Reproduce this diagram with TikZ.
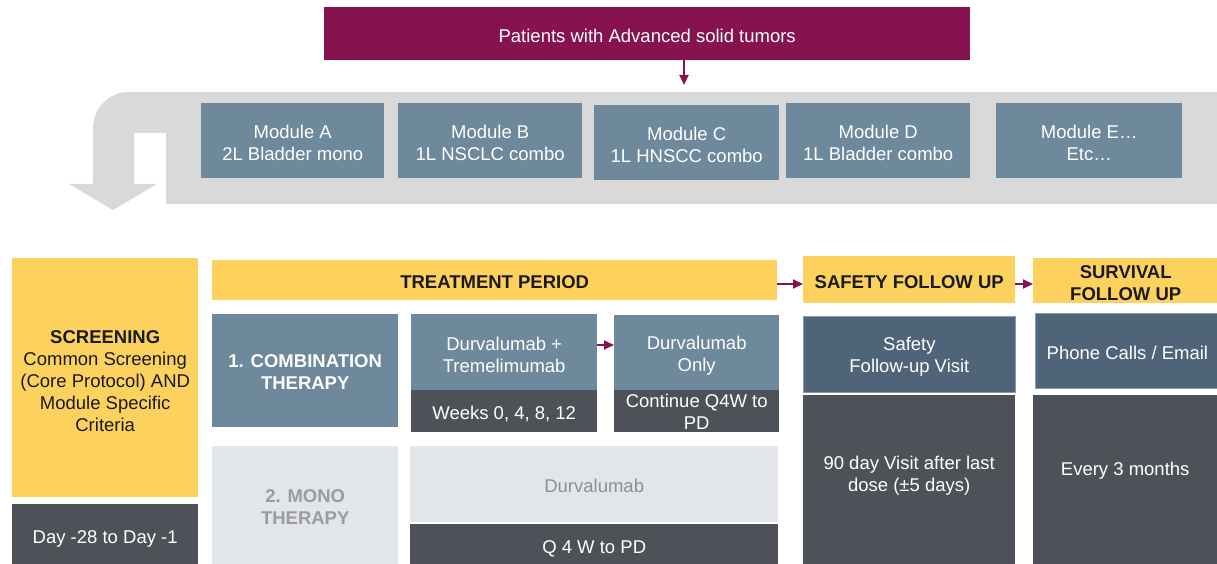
\documentclass[tikz,border=0pt]{standalone}
\usepackage{fontspec}
\setmainfont{Liberation Sans}
\usetikzlibrary{arrows.meta}
\definecolor{plum}{HTML}{86134F}
\definecolor{gold}{HTML}{FDD15E}
\definecolor{steel}{HTML}{6E889C}
\definecolor{slate}{HTML}{506479}
\definecolor{charcoal}{HTML}{4E5258}
\definecolor{pale}{HTML}{E2E6EA}
\definecolor{bandgrey}{HTML}{D9D9D9}
\definecolor{greytxt}{HTML}{8F8F8F}
\definecolor{monotxt}{HTML}{9C9C9C}
\definecolor{inktxt}{HTML}{1A1A1A}
\definecolor{edge}{HTML}{8A9CAC}
\begin{document}
\begin{tikzpicture}[x=1pt,y=-1pt,
  font=\fontsize{18.5}{22}\selectfont,
  cell/.style={anchor=north west, inner sep=0pt, align=center,
    execute at begin node={\rule{0pt}{21.5pt}},
    execute at end node={\rule[-4pt]{0pt}{4pt}}},
  mltext/.style={inner sep=0pt, align=center, text=#1},
  steelbox/.style={cell, fill=steel, text=white},
  slatebox/.style={cell, fill=slate, text=white, draw=edge, line width=0.8pt},
  darkbox/.style={cell, fill=charcoal, text=white},
  palebox/.style={cell, fill=pale},
  goldbox/.style={cell, fill=gold, text=inktxt},
  hdr/.style={font=\fontsize{18.5}{22}\selectfont\bfseries},
  parrow/.style={draw=plum, line width=1.8pt, -{Triangle[length=10pt,width=9pt]}}
]
\useasboundingbox (0,0) rectangle (1217,564);
\fill[white] (0,0) rectangle (1217,564);

% top purple box
\node[cell, fill=plum, text=white, minimum width=646pt, minimum height=53pt] (pat) at (324,7) {Patients with Advanced solid tumors};

% U-turn band
\fill[bandgrey] (1217,92) -- (129,92) .. controls (109,92) and (93,108) .. (93,128)
  -- (93,184) -- (69,184) -- (113,210) -- (157,184) -- (134,184) -- (134,133)
  -- (166,133) -- (166,204) -- (1217,204) -- cycle;

% modules
\node[steelbox, minimum width=183pt, minimum height=75pt] (ma) at (201,103) {};
\node[mltext=white] (mat) at ([yshift=-2.5pt]ma.center) {Module A\\2L Bladder mono};
\node[steelbox, minimum width=184pt, minimum height=75pt] (mb) at (398,103) {};
\node[mltext=white] (mbt) at ([yshift=-2.5pt]mb.center) {Module B\\1L NSCLC combo};
\node[steelbox, minimum width=185pt, minimum height=75pt] (mc) at (594,105) {};
\node[mltext=white] (mct) at ([yshift=-2.5pt]mc.center) {Module C\\1L HNSCC combo};
\node[steelbox, minimum width=184pt, minimum height=75pt] (md) at (786,103) {};
\node[mltext=white] (mdt) at ([yshift=-2.5pt]md.center) {Module D\\1L Bladder combo};
\node[steelbox, minimum width=186pt, minimum height=75pt] (me) at (996,103) {};
\node[mltext=white] (met) at ([yshift=-2.5pt]me.center) {Module E…\\Etc…};

\coordinate (a1) at (684,85);
\draw[parrow] (pat.south -| a1) -- (a1);

% screening column
\node[goldbox, minimum width=186pt, minimum height=239pt] (scr) at (12,258) {};
\node[mltext=inktxt] (scrt) at ([yshift=-3pt]scr.center)
  {{\bfseries SCREENING}\\Common Screening\\(Core Protocol) AND\\Module Specific\\Criteria};
\node[darkbox, minimum width=186pt, minimum height=61pt] (day) at (12,504) {Day -28 to Day -1};

% headers
\node[goldbox, hdr, minimum width=565pt, minimum height=40pt] (tp) at (212,260) {TREATMENT PERIOD};
\node[goldbox, hdr, minimum width=212pt, minimum height=47pt] (sf) at (803,256) {SAFETY FOLLOW UP};
\node[goldbox, minimum width=185pt, minimum height=45pt] (sv) at (1033,258) {};
\node[mltext=inktxt, hdr] (svt) at ([yshift=-2pt]sv.center) {SURVIVAL\\FOLLOW UP};

\coordinate (hy) at (0,284);
\draw[parrow] (tp.east |- hy) -- (sf.west |- hy);
\draw[parrow] (sf.east |- hy) -- (sv.west |- hy);

% combination therapy row
\node[steelbox, minimum width=186pt, minimum height=113pt] (comb) at (212,314) {};
\node[mltext=white, hdr] (combt) at ([yshift=-1.5pt]comb.center) {1. COMBINATION\\THERAPY};
\node[steelbox, minimum width=186pt, minimum height=76pt] (dt) at (411,314) {};
\node[mltext=white] (dtt) at ([yshift=-2.5pt]dt.center) {Durvalumab +\\Tremelimumab};
\node[darkbox, minimum width=186pt, minimum height=42pt] (dtw) at (411,390) {Weeks 0, 4, 8, 12};
\node[steelbox, minimum width=165pt, minimum height=75pt] (don) at (614,315) {};
\node[mltext=white] (dont) at ([yshift=-3pt]don.center) {Durvalumab\\Only};
\node[darkbox, minimum width=165pt, minimum height=42pt] (donw) at (614,390) {};
\node[mltext=white] (donwt) at ([yshift=-1pt]donw.center) {Continue Q4W to\\PD};

\coordinate (cy) at (0,345);
\draw[parrow] (dt.east |- cy) -- (don.west |- cy);

% mono therapy row
\node[palebox, minimum width=186pt, minimum height=118pt] (mono) at (212,446) {};
\node[mltext=monotxt, hdr] (monot) at ([yshift=-2pt]mono.center) {2. MONO\\THERAPY};
\node[palebox, text=greytxt, minimum width=368pt, minimum height=76pt] (dm) at (410,446) {Durvalumab};
\node[darkbox, minimum width=368pt, minimum height=41pt] (dmw) at (410,524) {Q 4 W to PD};

% safety follow up column
\node[slatebox, minimum width=212pt, minimum height=76pt] (sfv) at (803,316) {};
\node[mltext=white] (sfvt) at ([yshift=-2.5pt]sfv.center) {Safety\\Follow-up Visit};
\node[darkbox, minimum width=212pt, minimum height=170pt] (sfd) at (803,395) {};
\node[mltext=white] (sfdt) at ([yshift=4pt]sfd.center) {90 day Visit after last\\dose (±5 days)};

% survival column
\node[slatebox, minimum width=184pt, minimum height=75pt] (ph) at (1035,313) {Phone Calls / Email};
\node[darkbox, minimum width=184pt, minimum height=170pt] (ev) at (1033,395) {};
\node[mltext=white, execute at begin node={\rule{0pt}{21.5pt}}, execute at end node={\rule[-4pt]{0pt}{4pt}}]
  (evt) at ([yshift=13.5pt]ev.center) {Every 3 months};
\end{tikzpicture}
\end{document}
